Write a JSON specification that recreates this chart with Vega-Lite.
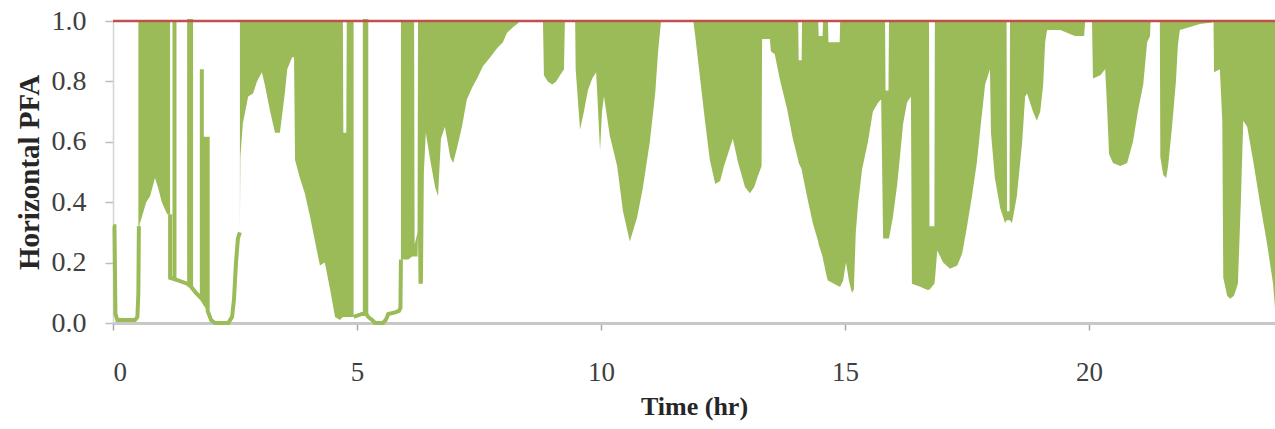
{
  "$schema": "https://vega.github.io/schema/vega-lite/v6.json",
  "width": 1162,
  "height": 302,
  "autosize": "none",
  "padding": {"left": 113, "top": 21, "right": 0, "bottom": 106},
  "background": "white",
  "config": {"view": {"stroke": null}},
  "datasets": {
    "band": [
      {"s":"A","t":0.52,"lo":0.30,"hi":1},{"s":"A","t":0.55,"lo":0.33,"hi":1},{"s":"A","t":0.59,"lo":0.35,"hi":1},{"s":"A","t":0.68,"lo":0.40,"hi":1},{"s":"A","t":0.76,"lo":0.42,"hi":1},{"s":"A","t":0.86,"lo":0.48,"hi":1},{"s":"A","t":0.92,"lo":0.45,"hi":1},{"s":"A","t":1.00,"lo":0.40,"hi":1},{"s":"A","t":1.11,"lo":0.36,"hi":1},{"s":"A","t":1.17,"lo":0.36,"hi":1},
      {"s":"B","t":2.60,"lo":0.30,"hi":1},{"s":"B","t":2.61,"lo":0.55,"hi":1},{"s":"B","t":2.66,"lo":0.66,"hi":1},{"s":"B","t":2.77,"lo":0.75,"hi":1},{"s":"B","t":2.87,"lo":0.76,"hi":1},{"s":"B","t":2.95,"lo":0.80,"hi":1},{"s":"B","t":3.05,"lo":0.83,"hi":1},{"s":"B","t":3.11,"lo":0.79,"hi":1},{"s":"B","t":3.22,"lo":0.70,"hi":1},{"s":"B","t":3.32,"lo":0.63,"hi":1},{"s":"B","t":3.42,"lo":0.63,"hi":1},{"s":"B","t":3.52,"lo":0.76,"hi":1},{"s":"B","t":3.57,"lo":0.84,"hi":1},{"s":"B","t":3.67,"lo":0.88,"hi":1},{"s":"B","t":3.71,"lo":0.88,"hi":1},{"s":"B","t":3.73,"lo":0.54,"hi":1},{"s":"B","t":3.83,"lo":0.48,"hi":1},{"s":"B","t":3.93,"lo":0.43,"hi":1},{"s":"B","t":4.04,"lo":0.35,"hi":1},{"s":"B","t":4.14,"lo":0.27,"hi":1},{"s":"B","t":4.24,"lo":0.19,"hi":1},{"s":"B","t":4.34,"lo":0.20,"hi":1},{"s":"B","t":4.45,"lo":0.11,"hi":1},{"s":"B","t":4.55,"lo":0.02,"hi":1},{"s":"B","t":4.65,"lo":0.01,"hi":1},{"s":"B","t":4.71,"lo":0.02,"hi":1},{"s":"B","t":4.72,"lo":0.02,"hi":0.63},{"s":"B","t":4.78,"lo":0.02,"hi":0.63},{"s":"B","t":4.79,"lo":0.02,"hi":1},{"s":"B","t":4.93,"lo":0.02,"hi":1},
      {"s":"C","t":5.90,"lo":0.06,"hi":1},{"s":"C","t":5.91,"lo":0.21,"hi":1},{"s":"C","t":6.05,"lo":0.21,"hi":1},{"s":"C","t":6.13,"lo":0.22,"hi":1},{"s":"C","t":6.17,"lo":0.22,"hi":1},{"s":"C","t":6.18,"lo":0.22,"hi":0.26},{"s":"C","t":6.24,"lo":0.22,"hi":0.30},{"s":"C","t":6.25,"lo":0.30,"hi":1},{"s":"C","t":6.26,"lo":0.13,"hi":1},{"s":"C","t":6.35,"lo":0.13,"hi":1},{"s":"C","t":6.37,"lo":0.50,"hi":1},{"s":"C","t":6.41,"lo":0.63,"hi":1},{"s":"C","t":6.50,"lo":0.54,"hi":1},{"s":"C","t":6.60,"lo":0.45,"hi":1},{"s":"C","t":6.66,"lo":0.42,"hi":1},{"s":"C","t":6.72,"lo":0.61,"hi":1},{"s":"C","t":6.80,"lo":0.65,"hi":1},{"s":"C","t":6.91,"lo":0.55,"hi":1},{"s":"C","t":6.97,"lo":0.53,"hi":1},{"s":"C","t":7.05,"lo":0.58,"hi":1},{"s":"C","t":7.15,"lo":0.65,"hi":1},{"s":"C","t":7.25,"lo":0.74,"hi":1},{"s":"C","t":7.36,"lo":0.78,"hi":1},{"s":"C","t":7.46,"lo":0.81,"hi":1},{"s":"C","t":7.58,"lo":0.85,"hi":1},{"s":"C","t":7.73,"lo":0.88,"hi":1},{"s":"C","t":7.87,"lo":0.91,"hi":1},{"s":"C","t":7.99,"lo":0.93,"hi":1},{"s":"C","t":8.07,"lo":0.96,"hi":1},{"s":"C","t":8.20,"lo":0.98,"hi":1},{"s":"C","t":8.28,"lo":0.99,"hi":1},{"s":"C","t":8.34,"lo":1,"hi":1},
      {"s":"E","t":8.81,"lo":1,"hi":1},{"s":"E","t":8.83,"lo":0.82,"hi":1},{"s":"E","t":8.91,"lo":0.80,"hi":1},{"s":"E","t":9.00,"lo":0.79,"hi":1},{"s":"E","t":9.08,"lo":0.80,"hi":1},{"s":"E","t":9.16,"lo":0.82,"hi":1},{"s":"E","t":9.24,"lo":0.84,"hi":1},{"s":"E","t":9.26,"lo":1,"hi":1},
      {"s":"F","t":9.47,"lo":1,"hi":1},{"s":"F","t":9.48,"lo":0.84,"hi":1},{"s":"F","t":9.57,"lo":0.64,"hi":1},{"s":"F","t":9.65,"lo":0.70,"hi":1},{"s":"F","t":9.73,"lo":0.77,"hi":1},{"s":"F","t":9.82,"lo":0.81,"hi":1},{"s":"F","t":9.90,"lo":0.83,"hi":1},{"s":"F","t":9.94,"lo":0.70,"hi":1},{"s":"F","t":9.98,"lo":0.57,"hi":1},{"s":"F","t":10.02,"lo":0.70,"hi":1},{"s":"F","t":10.06,"lo":0.75,"hi":1},{"s":"F","t":10.18,"lo":0.62,"hi":1},{"s":"F","t":10.33,"lo":0.52,"hi":1},{"s":"F","t":10.45,"lo":0.37,"hi":1},{"s":"F","t":10.59,"lo":0.27,"hi":1},{"s":"F","t":10.74,"lo":0.35,"hi":1},{"s":"F","t":10.86,"lo":0.45,"hi":1},{"s":"F","t":11.00,"lo":0.60,"hi":1},{"s":"F","t":11.11,"lo":0.76,"hi":1},{"s":"F","t":11.17,"lo":0.90,"hi":1},{"s":"F","t":11.23,"lo":1,"hi":1},
      {"s":"G","t":11.89,"lo":1,"hi":1},{"s":"G","t":11.93,"lo":0.95,"hi":1},{"s":"G","t":12.03,"lo":0.81,"hi":1},{"s":"G","t":12.13,"lo":0.67,"hi":1},{"s":"G","t":12.23,"lo":0.54,"hi":1},{"s":"G","t":12.34,"lo":0.46,"hi":1},{"s":"G","t":12.44,"lo":0.47,"hi":1},{"s":"G","t":12.52,"lo":0.52,"hi":1},{"s":"G","t":12.60,"lo":0.56,"hi":1},{"s":"G","t":12.70,"lo":0.61,"hi":1},{"s":"G","t":12.81,"lo":0.53,"hi":1},{"s":"G","t":12.95,"lo":0.45,"hi":1},{"s":"G","t":13.05,"lo":0.43,"hi":1},{"s":"G","t":13.14,"lo":0.45,"hi":1},{"s":"G","t":13.20,"lo":0.48,"hi":1},{"s":"G","t":13.29,"lo":0.52,"hi":1},{"s":"G","t":13.30,"lo":0.94,"hi":1},{"s":"G","t":13.46,"lo":0.94,"hi":1},{"s":"G","t":13.48,"lo":0.90,"hi":1},{"s":"G","t":13.56,"lo":0.89,"hi":1},{"s":"G","t":13.66,"lo":0.81,"hi":1},{"s":"G","t":13.81,"lo":0.71,"hi":1},{"s":"G","t":13.93,"lo":0.61,"hi":1},{"s":"G","t":14.04,"lo":0.54,"hi":1},{"s":"G","t":14.05,"lo":0.53,"hi":0.87},{"s":"G","t":14.11,"lo":0.51,"hi":0.87},{"s":"G","t":14.12,"lo":0.50,"hi":1},{"s":"G","t":14.22,"lo":0.42,"hi":1},{"s":"G","t":14.34,"lo":0.33,"hi":1},{"s":"G","t":14.45,"lo":0.27,"hi":1},{"s":"G","t":14.46,"lo":0.26,"hi":0.95},{"s":"G","t":14.54,"lo":0.22,"hi":0.95},{"s":"G","t":14.55,"lo":0.21,"hi":1},{"s":"G","t":14.63,"lo":0.15,"hi":1},{"s":"G","t":14.65,"lo":0.14,"hi":1},{"s":"G","t":14.66,"lo":0.14,"hi":0.93},{"s":"G","t":14.89,"lo":0.12,"hi":0.93},{"s":"G","t":14.90,"lo":0.12,"hi":1},{"s":"G","t":14.96,"lo":0.14,"hi":1},{"s":"G","t":15.02,"lo":0.20,"hi":1},{"s":"G","t":15.08,"lo":0.14,"hi":1},{"s":"G","t":15.14,"lo":0.10,"hi":1},{"s":"G","t":15.18,"lo":0.11,"hi":1},{"s":"G","t":15.22,"lo":0.30,"hi":1},{"s":"G","t":15.27,"lo":0.40,"hi":1},{"s":"G","t":15.35,"lo":0.51,"hi":1},{"s":"G","t":15.47,"lo":0.60,"hi":1},{"s":"G","t":15.57,"lo":0.70,"hi":1},{"s":"G","t":15.68,"lo":0.73,"hi":1},{"s":"G","t":15.74,"lo":0.74,"hi":1},{"s":"G","t":15.78,"lo":0.28,"hi":1},{"s":"G","t":15.82,"lo":0.28,"hi":1},{"s":"G","t":15.83,"lo":0.28,"hi":0.77},{"s":"G","t":15.89,"lo":0.28,"hi":0.77},{"s":"G","t":15.90,"lo":0.28,"hi":1},{"s":"G","t":15.98,"lo":0.35,"hi":1},{"s":"G","t":16.07,"lo":0.46,"hi":1},{"s":"G","t":16.13,"lo":0.56,"hi":1},{"s":"G","t":16.19,"lo":0.66,"hi":1},{"s":"G","t":16.27,"lo":0.73,"hi":1},{"s":"G","t":16.35,"lo":0.75,"hi":1},{"s":"G","t":16.37,"lo":0.13,"hi":1},{"s":"G","t":16.54,"lo":0.12,"hi":1},{"s":"G","t":16.68,"lo":0.11,"hi":1},{"s":"G","t":16.72,"lo":0.11,"hi":1},{"s":"G","t":16.73,"lo":0.11,"hi":0.32},{"s":"G","t":16.83,"lo":0.13,"hi":0.32},{"s":"G","t":16.84,"lo":0.14,"hi":1},{"s":"G","t":16.89,"lo":0.24,"hi":1},{"s":"G","t":17.01,"lo":0.20,"hi":1},{"s":"G","t":17.15,"lo":0.18,"hi":1},{"s":"G","t":17.30,"lo":0.19,"hi":1},{"s":"G","t":17.40,"lo":0.23,"hi":1},{"s":"G","t":17.50,"lo":0.32,"hi":1},{"s":"G","t":17.60,"lo":0.42,"hi":1},{"s":"G","t":17.70,"lo":0.53,"hi":1},{"s":"G","t":17.77,"lo":0.64,"hi":1},{"s":"G","t":17.87,"lo":0.79,"hi":1},{"s":"G","t":17.97,"lo":0.84,"hi":1},{"s":"G","t":17.99,"lo":0.63,"hi":1},{"s":"G","t":18.07,"lo":0.48,"hi":1},{"s":"G","t":18.18,"lo":0.38,"hi":1},{"s":"G","t":18.28,"lo":0.33,"hi":1},{"s":"G","t":18.31,"lo":0.34,"hi":1},{"s":"G","t":18.32,"lo":0.34,"hi":0.37},{"s":"G","t":18.37,"lo":0.34,"hi":0.37},{"s":"G","t":18.38,"lo":0.34,"hi":1},{"s":"G","t":18.42,"lo":0.33,"hi":1},{"s":"G","t":18.52,"lo":0.42,"hi":1},{"s":"G","t":18.63,"lo":0.60,"hi":1},{"s":"G","t":18.69,"lo":0.75,"hi":1},{"s":"G","t":18.73,"lo":0.76,"hi":1},{"s":"G","t":18.85,"lo":0.70,"hi":1},{"s":"G","t":18.93,"lo":0.67,"hi":1},{"s":"G","t":19.00,"lo":0.70,"hi":1},{"s":"G","t":19.06,"lo":0.79,"hi":1},{"s":"G","t":19.10,"lo":0.93,"hi":1},{"s":"G","t":19.14,"lo":0.97,"hi":1},{"s":"G","t":19.41,"lo":0.97,"hi":1},{"s":"G","t":19.71,"lo":0.95,"hi":1},{"s":"G","t":19.90,"lo":0.95,"hi":1},{"s":"G","t":19.92,"lo":1,"hi":1},
      {"s":"I","t":20.06,"lo":1,"hi":1},{"s":"I","t":20.08,"lo":0.81,"hi":1},{"s":"I","t":20.23,"lo":0.82,"hi":1},{"s":"I","t":20.33,"lo":0.84,"hi":1},{"s":"I","t":20.37,"lo":0.71,"hi":1},{"s":"I","t":20.41,"lo":0.56,"hi":1},{"s":"I","t":20.49,"lo":0.53,"hi":1},{"s":"I","t":20.64,"lo":0.52,"hi":1},{"s":"I","t":20.78,"lo":0.53,"hi":1},{"s":"I","t":20.90,"lo":0.60,"hi":1},{"s":"I","t":21.00,"lo":0.70,"hi":1},{"s":"I","t":21.11,"lo":0.79,"hi":1},{"s":"I","t":21.19,"lo":0.93,"hi":1},{"s":"I","t":21.25,"lo":0.95,"hi":1},{"s":"I","t":21.26,"lo":1,"hi":1},
      {"s":"J","t":21.45,"lo":1,"hi":1},{"s":"J","t":21.46,"lo":0.55,"hi":1},{"s":"J","t":21.52,"lo":0.49,"hi":1},{"s":"J","t":21.58,"lo":0.48,"hi":1},{"s":"J","t":21.62,"lo":0.52,"hi":1},{"s":"J","t":21.70,"lo":0.65,"hi":1},{"s":"J","t":21.78,"lo":0.80,"hi":1},{"s":"J","t":21.82,"lo":0.92,"hi":1},{"s":"J","t":21.86,"lo":0.97,"hi":1},{"s":"J","t":22.07,"lo":0.98,"hi":1},{"s":"J","t":22.27,"lo":0.99,"hi":1},{"s":"J","t":22.52,"lo":0.995,"hi":1},{"s":"J","t":22.54,"lo":1,"hi":1},
      {"s":"K","t":22.55,"lo":1,"hi":1},{"s":"K","t":22.56,"lo":0.83,"hi":1},{"s":"K","t":22.68,"lo":0.84,"hi":1},{"s":"K","t":22.73,"lo":0.67,"hi":1},{"s":"K","t":22.75,"lo":0.15,"hi":1},{"s":"K","t":22.83,"lo":0.09,"hi":1},{"s":"K","t":22.89,"lo":0.08,"hi":1},{"s":"K","t":22.97,"lo":0.09,"hi":1},{"s":"K","t":23.05,"lo":0.13,"hi":1},{"s":"K","t":23.11,"lo":0.40,"hi":1},{"s":"K","t":23.16,"lo":0.67,"hi":1},{"s":"K","t":23.24,"lo":0.65,"hi":1},{"s":"K","t":23.36,"lo":0.54,"hi":1},{"s":"K","t":23.50,"lo":0.40,"hi":1},{"s":"K","t":23.65,"lo":0.26,"hi":1},{"s":"K","t":23.77,"lo":0.13,"hi":1},{"s":"K","t":23.81,"lo":0.05,"hi":1}
    ],
    "trace": [
      {"p":"p1","i":1,"t":0,"v":0.32},{"p":"p1","i":2,"t":0.03,"v":0.32},{"p":"p1","i":3,"t":0.05,"v":0.03},{"p":"p1","i":4,"t":0.09,"v":0.01},{"p":"p1","i":5,"t":0.45,"v":0.01},{"p":"p1","i":6,"t":0.50,"v":0.02},{"p":"p1","i":7,"t":0.52,"v":0.10},{"p":"p1","i":8,"t":0.53,"v":0.32},
      {"p":"p2","i":9,"t":1.17,"v":0.36},{"p":"p2","i":10,"t":1.17,"v":0.15},{"p":"p2","i":11,"t":1.26,"v":0.145},{"p":"p2","i":12,"t":1.26,"v":1},{"p":"p2","i":13,"t":1.26,"v":0.145},{"p":"p2","i":14,"t":1.52,"v":0.13},{"p":"p2","i":15,"t":1.56,"v":0.125},{"p":"p2","i":16,"t":1.56,"v":1},{"p":"p2","i":17,"t":1.60,"v":1},{"p":"p2","i":18,"t":1.60,"v":0.12},{"p":"p2","i":19,"t":1.70,"v":0.10},{"p":"p2","i":20,"t":1.82,"v":0.08},{"p":"p2","i":21,"t":1.82,"v":0.84},{"p":"p2","i":22,"t":1.82,"v":0.08},{"p":"p2","i":23,"t":1.90,"v":0.06},{"p":"p2","i":24,"t":1.90,"v":0.61},{"p":"p2","i":25,"t":1.94,"v":0.61},{"p":"p2","i":26,"t":1.94,"v":0.04},{"p":"p2","i":27,"t":2.01,"v":0.01},{"p":"p2","i":28,"t":2.09,"v":0.0},{"p":"p2","i":29,"t":2.36,"v":0.0},{"p":"p2","i":30,"t":2.44,"v":0.02},{"p":"p2","i":31,"t":2.48,"v":0.08},{"p":"p2","i":32,"t":2.52,"v":0.20},{"p":"p2","i":33,"t":2.56,"v":0.28},{"p":"p2","i":34,"t":2.60,"v":0.30},
      {"p":"p3","i":35,"t":4.93,"v":0.02},{"p":"p3","i":36,"t":5.10,"v":0.03},{"p":"p3","i":37,"t":5.16,"v":0.03},{"p":"p3","i":38,"t":5.16,"v":1},{"p":"p3","i":39,"t":5.19,"v":1},{"p":"p3","i":40,"t":5.19,"v":0.03},{"p":"p3","i":41,"t":5.23,"v":0.02},{"p":"p3","i":42,"t":5.31,"v":0.01},{"p":"p3","i":43,"t":5.37,"v":0.0},{"p":"p3","i":44,"t":5.53,"v":0.0},{"p":"p3","i":45,"t":5.59,"v":0.01},{"p":"p3","i":46,"t":5.64,"v":0.03},{"p":"p3","i":47,"t":5.78,"v":0.035},{"p":"p3","i":48,"t":5.86,"v":0.04},{"p":"p3","i":49,"t":5.89,"v":0.05},{"p":"p3","i":50,"t":5.90,"v":0.21}
    ],
    "ref": [{"level": 1}]
  },
  "layer": [
    {
      "data": {"name": "band"},
      "mark": {"type": "area", "color": "#9bbb59", "opacity": 1},
      "encoding": {
        "x": {"field": "t", "type": "quantitative", "scale": {"domain": [0, 23.81], "nice": false, "zero": false},
          "axis": {"values": [0, 5, 10, 15, 20], "format": "d", "title": "Time (hr)", "grid": false,
            "domainColor": "#c8c8c8", "domainWidth": 3, "tickColor": "#a8a8a8", "tickSize": 7, "tickWidth": 1.5,
            "labelFont": "Liberation Serif", "labelFontSize": 27, "labelColor": "#404040", "labelPadding": 29,
            "titleFont": "Liberation Serif", "titleFontSize": 26, "titleFontWeight": "bold", "titleColor": "#262626", "titlePadding": 8}},
        "y": {"field": "lo", "type": "quantitative", "scale": {"domain": [0, 1], "nice": false},
          "axis": {"values": [0, 0.2, 0.4, 0.6, 0.8, 1.0], "format": ".1f", "title": "Horizontal PFA", "grid": false,
            "domainColor": "#d4d4d4", "domainWidth": 1.5, "tickColor": "#bdbdbd", "tickSize": 8, "tickWidth": 1.5,
            "labelFont": "Liberation Serif", "labelFontSize": 28, "labelColor": "#404040", "labelPadding": 19,
            "titleFont": "Liberation Serif", "titleFontSize": 29, "titleFontWeight": "bold", "titleColor": "#262626", "titlePadding": 7}},
        "y2": {"field": "hi"},
        "detail": {"field": "s", "type": "nominal"}
      }
    },
    {
      "data": {"name": "trace"},
      "mark": {"type": "line", "color": "#9bbb59", "strokeWidth": 4, "strokeJoin": "miter"},
      "encoding": {
        "x": {"field": "t", "type": "quantitative"},
        "y": {"field": "v", "type": "quantitative"},
        "detail": {"field": "p", "type": "nominal"},
        "order": {"field": "i", "type": "quantitative"}
      }
    },
    {
      "data": {"name": "ref"},
      "mark": {"type": "rule", "color": "#c0504d", "strokeWidth": 2.5},
      "encoding": {"y": {"field": "level", "type": "quantitative"}}
    }
  ]
}
